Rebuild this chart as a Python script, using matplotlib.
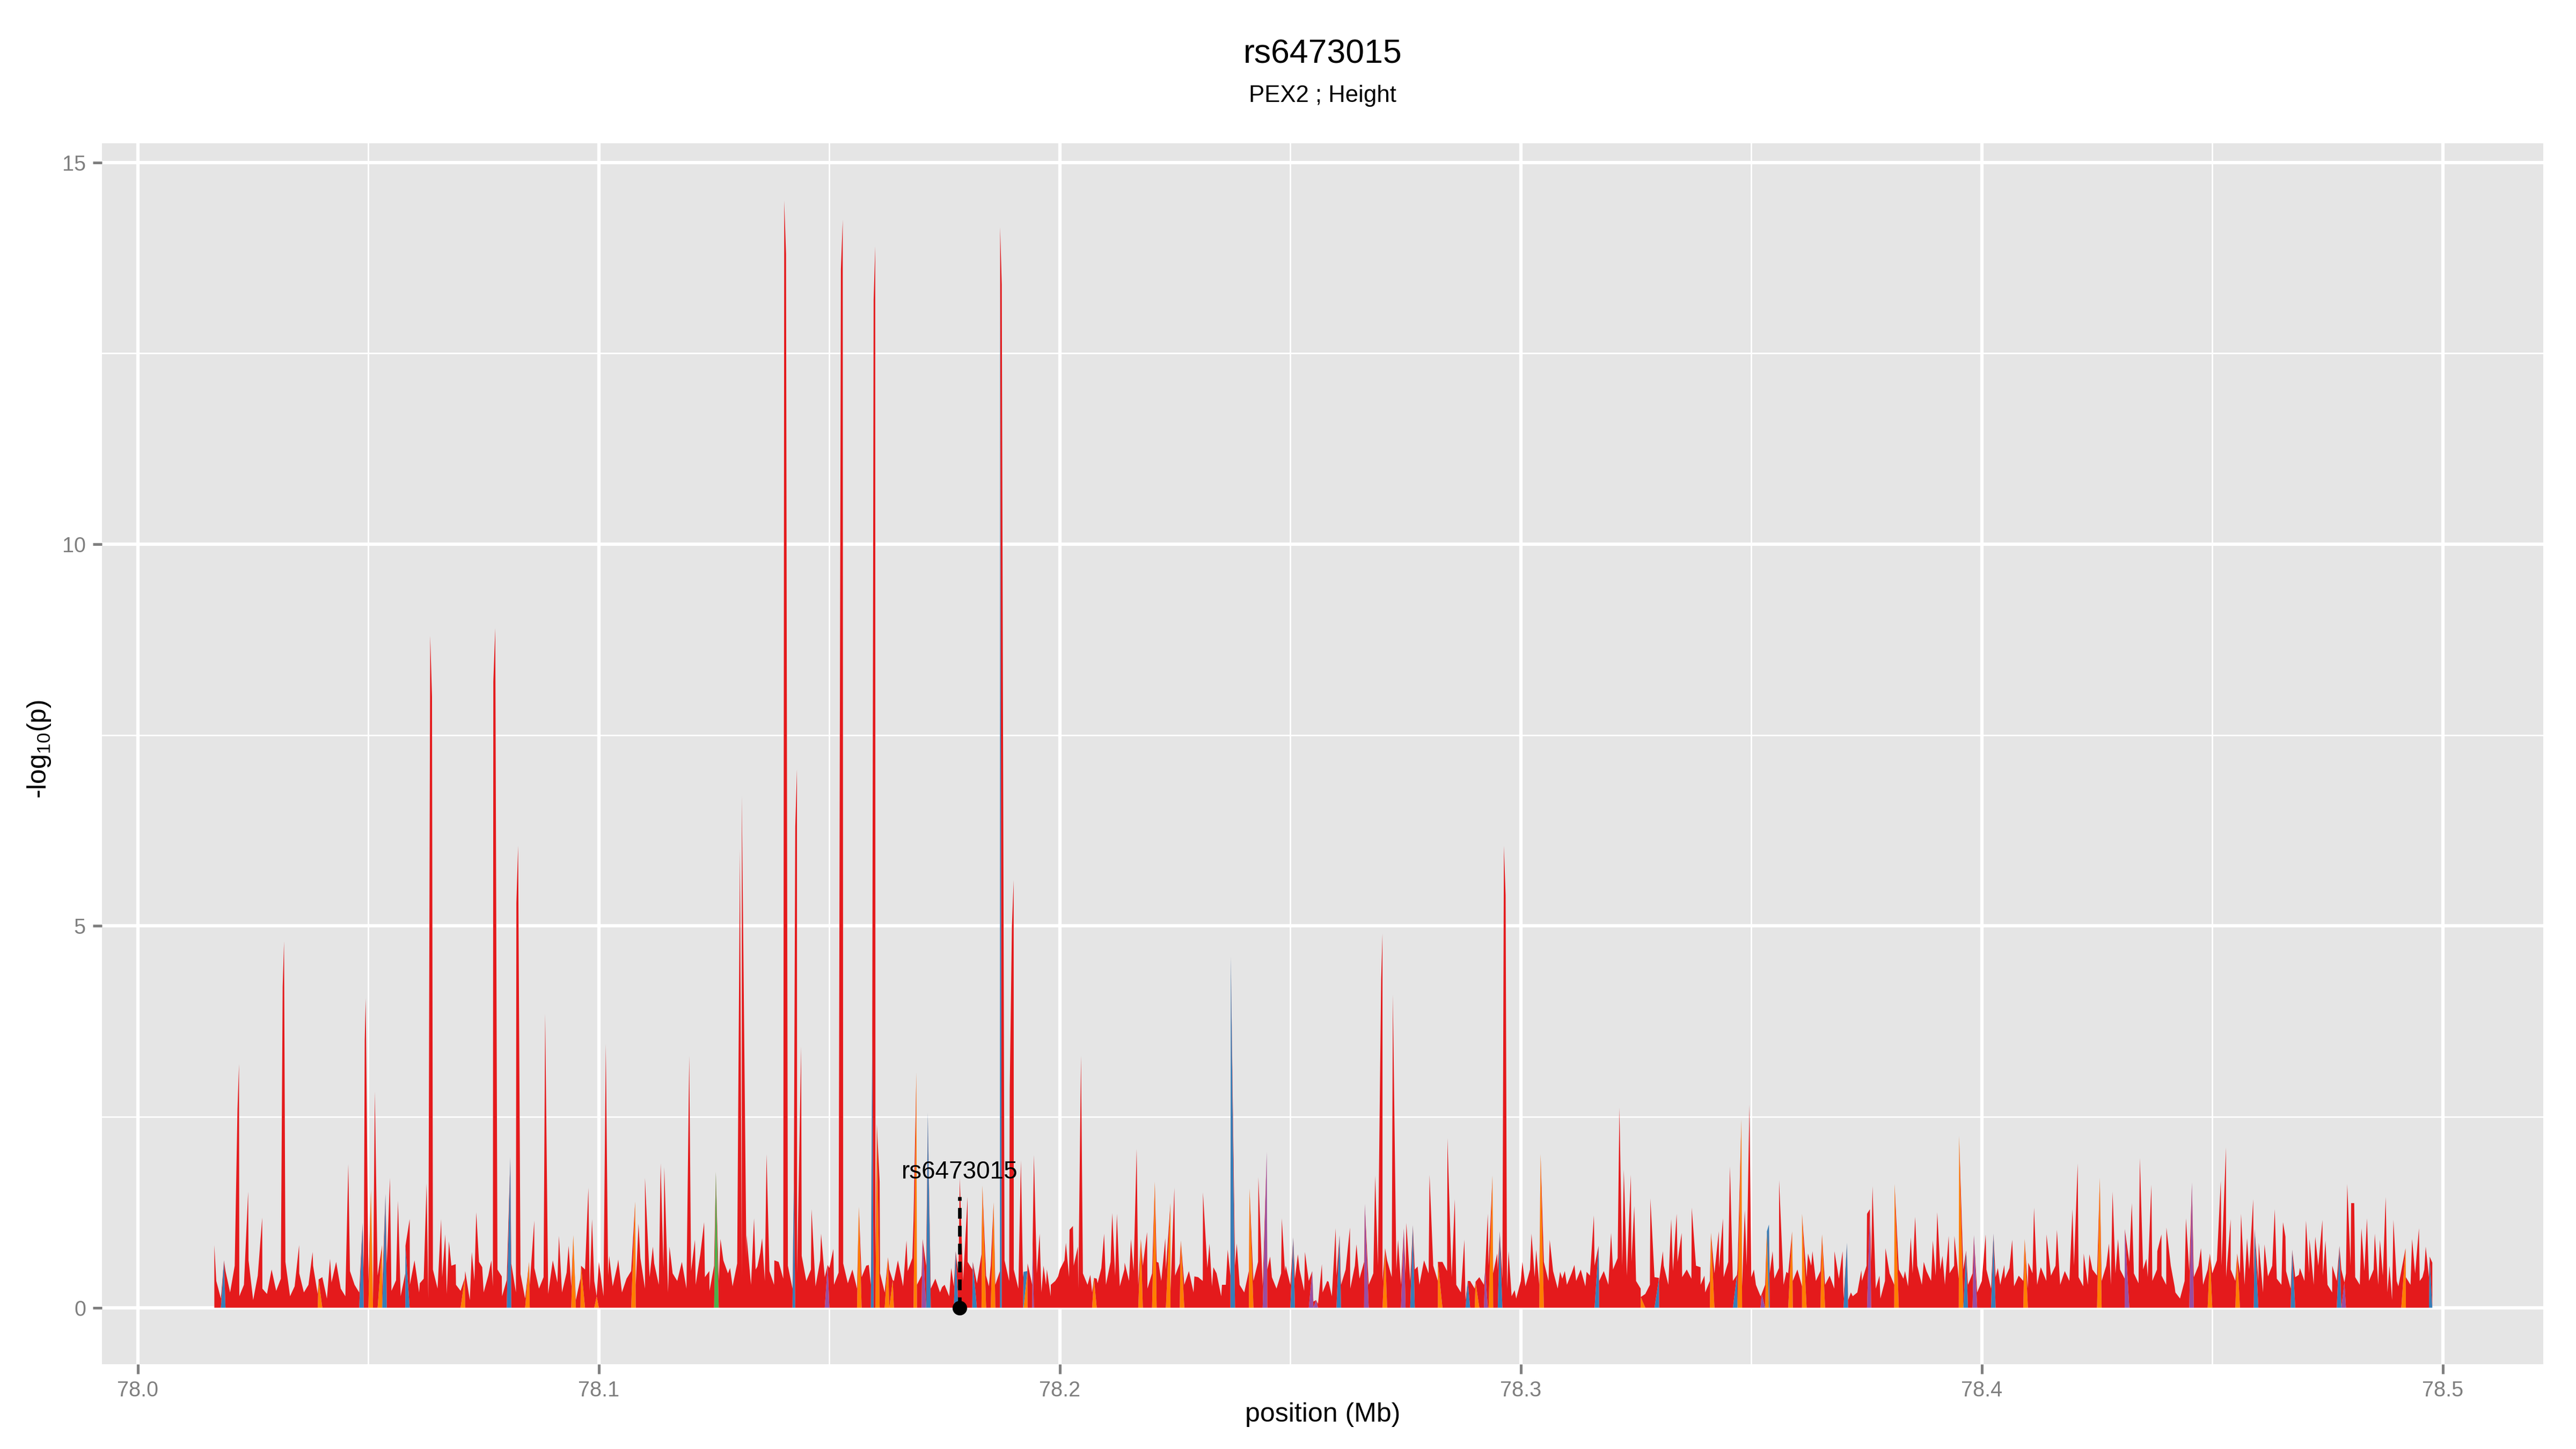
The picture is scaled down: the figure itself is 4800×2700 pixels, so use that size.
import numpy as np
import matplotlib
matplotlib.use("Agg")
import matplotlib.pyplot as plt
from matplotlib.ticker import FixedLocator

plt.rcParams['font.family'] = ['Liberation Sans', 'DejaVu Sans']
plt.rcParams['mathtext.fontset'] = 'custom'
plt.rcParams['mathtext.rm'] = 'Liberation Sans'
plt.rcParams['mathtext.it'] = 'Liberation Sans:italic'

# ---------------- data ----------------
title = "rs6473015"
subtitle = "PEX2 ; Height"
lead_snp = "rs6473015"
lead_pos = 78.1783
lead_line_top = 1.45
lead_label_y = 1.69

# background (low-signal) SNPs, every 1 kb starting at 78.017 Mb
bg_start = 78.017
bg_step = 0.001
bg_logp = [
    0.35, 0.12, 0.48, 0.2, 0.55, 0.15, 0.3, 0.62, 0.1, 0.42, 0.25, 0.18, 0.5, 0.22, 0.38, 0.6, 0.15, 0.28, 0.45, 0.2,
    0.3, 0.55, 0.18, 0.4, 0.12, 0.33, 0.6, 0.25, 0.15, 0.48, 0.3, 0.2, 0.52, 0.35, 0.1, 0.42, 0.28, 0.58, 0.22, 0.36,
    0.15, 0.45, 0.3, 0.62, 0.2, 0.38, 0.12, 0.5, 0.25, 0.4, 0.18, 0.55, 0.3, 0.22, 0.48, 0.1, 0.35, 0.6, 0.2, 0.42,
    0.28, 0.5, 0.15, 0.36, 0.58, 0.2, 0.44, 0.12, 0.3, 0.52, 0.25, 0.4, 0.18, 0.62, 0.33, 0.2, 0.46, 0.28, 0.1, 0.38,
    0.5, 0.22, 0.35, 0.6, 0.15, 0.42, 0.28, 0.55, 0.2, 0.38, 0.48, 0.3, 0.65, 0.25, 0.4, 0.58, 0.3, 0.52, 0.2, 0.45,
    0.35, 0.6, 0.25, 0.48, 0.3, 0.7, 0.4, 0.22, 0.55, 0.35, 0.62, 0.45, 0.28, 0.58, 0.4, 0.66, 0.3, 0.5, 0.72, 0.35,
    0.48, 0.3, 0.6, 0.38, 0.55, 0.25, 0.45, 0.68, 0.35, 0.5, 0.28, 0.62, 0.4, 0.52, 0.3, 0.46, 0.58, 0.32, 0.5, 0.25,
    0.4, 0.55, 0.3, 0.62, 0.45, 0.2, 0.5, 0.35, 0.58, 0.28, 0.48, 0.65, 0.3, 0.42, 0.55, 0.25, 0.38, 0.2, 0.3, 0.15,
    0.28, 0.45, 0.35, 0.6, 0.5, 0.32, 0.7, 0.42, 0.55, 0.3, 0.48, 0.62, 0.35, 0.5, 0.25, 0.4, 0.58, 0.3, 0.45, 0.2,
    0.3, 0.15, 0.35, 0.5, 0.62, 0.4, 0.55, 0.25, 0.45, 0.3, 0.2, 0.38, 0.52, 0.3, 0.6, 0.42, 0.28, 0.5, 0.35, 0.48,
    0.3, 0.55, 0.25, 0.45, 0.6, 0.35, 0.5, 0.22, 0.42, 0.58, 0.3, 0.48, 0.2, 0.4, 0.35, 0.52, 0.28, 0.45, 0.15, 0.3,
    0.42, 0.55, 0.3, 0.2, 0.48, 0.35, 0.6, 0.28, 0.5, 0.4, 0.25, 0.45, 0.55, 0.3, 0.38, 0.5, 0.22, 0.35, 0.08, 0.05,
    0.2, 0.35, 0.15, 0.42, 0.3, 0.5, 0.25, 0.55, 0.38, 0.6, 0.3, 0.45, 0.55, 0.35, 0.62, 0.4, 0.5, 0.3, 0.45, 0.35,
    0.5, 0.3, 0.62, 0.45, 0.55, 0.35, 0.6, 0.48, 0.4, 0.3, 0.2, 0.1, 0.35, 0.25, 0.4, 0.3, 0.55, 0.45, 0.5, 0.38,
    0.25, 0.15, 0.12, 0.35, 0.28, 0.5, 0.4, 0.3, 0.6, 0.35, 0.48, 0.25, 0.38, 0.3, 0.45, 0.35, 0.5, 0.28, 0.42, 0.55,
    0.35, 0.48, 0.3, 0.5, 0.65, 0.55, 0.42, 0.6, 0.35, 0.25, 0.18, 0.3, 0.4, 0.35, 0.55, 0.3, 0.48, 0.6, 0.4, 0.5,
    0.38, 0.55, 0.3, 0.2, 0.35, 0.45, 0.52, 0.4, 0.6, 0.35, 0.5, 0.28, 0.55, 0.4, 0.3, 0.15, 0.3, 0.45, 0.38, 0.52,
    0.3, 0.45, 0.35, 0.5, 0.28, 0.4, 0.55, 0.35, 0.48, 0.3, 0.42, 0.25, 0.38, 0.12, 0.1, 0.15, 0.2, 0.35, 0.55, 0.6,
    0.25, 0.12, 0.35, 0.45, 0.3, 0.5, 0.38, 0.28, 0.45, 0.55, 0.3, 0.48, 0.35, 0.42, 0.5, 0.3, 0.45, 0.55, 0.38, 0.5,
    0.3, 0.45, 0.2, 0.35, 0.5, 0.25, 0.4, 0.3, 0.38, 0.52, 0.28, 0.42, 0.35, 0.25, 0.45, 0.3, 0.5, 0.35, 0.42, 0.55,
    0.3, 0.48, 0.35, 0.55, 0.4, 0.28, 0.3, 0.5, 0.42, 0.35, 0.55, 0.3, 0.45, 0.5, 0.38, 0.6, 0.45, 0.32, 0.5, 0.4,
    0.35, 0.5, 0.42, 0.3, 0.55, 0.2, 0.12, 0.35, 0.48, 0.4, 0.55, 0.3, 0.5, 0.45, 0.62, 0.55, 0.4, 0.5, 0.35, 0.45,
    0.3, 0.5, 0.42, 0.35, 0.2, 0.45, 0.55, 0.38, 0.3, 0.48, 0.25, 0.4, 0.52, 0.35, 0.45, 0.3, 0.55, 0.42, 0.3, 0.2,
    0.35, 0.5, 0.45, 0.55, 0.4, 0.3, 0.48, 0.35, 0.5, 0.3, 0.42, 0.2, 0.1, 0.35, 0.48, 0.4, 0.3, 0.45, 0.35, 0.5,
    0.4,
]

# strong red peaks (position Mb, -log10 p)
major_pos = [78.02193, 78.03170, 78.04942, 78.05139, 78.06341, 78.07752, 78.08248, 78.08835,
             78.10150, 78.11960, 78.13101, 78.13637, 78.14021, 78.14297, 78.14388, 78.15290,
             78.15995, 78.18913, 78.18998, 78.19437, 78.20459, 78.21666, 78.26999, 78.27224,
             78.28408, 78.29633, 78.32139, 78.34959, 78.45297]
major_logp = [3.19, 4.8, 4.05, 2.83, 8.8, 8.9, 6.05, 3.85,
              3.45, 3.30, 6.7, 2.01, 14.5, 7.05, 3.42, 14.25,
              13.9, 2.88, 5.6, 2.0, 3.3, 2.08, 4.9, 4.1,
              2.22, 6.05, 2.62, 2.66, 2.1]

# SNPs in tight LD right beside the strong peaks (give the peaks their body)
shoulder_pos = [78.0216, 78.0314, 78.0492, 78.0638, 78.0771, 78.0821, 78.1306, 78.1406,
                78.1426, 78.1525, 78.1596, 78.1874, 78.1896, 78.2697, 78.2967]
shoulder_logp = [2.6, 4.2, 3.5, 8.0, 8.2, 5.3, 6.0, 13.8,
                 6.3, 13.6, 13.2, 13.4, 5.0, 4.3, 5.4]

# weaker red SNPs
minor_pos = [
    78.01658, 78.02391, 78.02696, 78.03497, 78.03790, 78.04168, 78.04564, 78.05467, 78.05642, 78.05895,
    78.06115, 78.06262, 78.06578, 78.06668, 78.06747, 78.06894, 78.07243, 78.07340, 78.07469, 78.07667,
    78.07893, 78.08598, 78.09134, 78.09343, 78.09772, 78.09851, 78.10224, 78.10420, 78.10860, 78.11000,
    78.11171, 78.11340, 78.11419, 78.11532, 78.12085, 78.12283, 78.12396, 78.12638, 78.12847, 78.13203,
    78.13366, 78.13439, 78.13541, 78.13806, 78.14613, 78.14820, 78.15087, 78.15855, 78.16091, 78.16487,
    78.16673, 78.16825, 78.17446, 78.17643, 78.17829, 78.17999, 78.18461, 78.19155, 78.19561, 78.19646,
    78.19719, 78.19804, 78.19962, 78.20131, 78.20210, 78.20284, 78.20391, 78.20661, 78.20819, 78.20960,
    78.21136, 78.21237, 78.21406, 78.21542, 78.21892, 78.22140, 78.22287, 78.22484, 78.22918, 78.23105,
    78.23246, 78.23330, 78.23517, 78.23641, 78.23838, 78.24036, 78.24307, 78.24561, 78.24815, 78.24883,
    78.25164, 78.25317, 78.25684, 78.25830, 78.25983, 78.26293, 78.26434, 78.26840, 78.27337, 78.27517,
    78.27761, 78.28020, 78.28567, 78.28775, 78.29283, 78.29487, 78.29735, 78.29865, 78.30034, 78.30232,
    78.30333, 78.30627, 78.30852, 78.30954, 78.31163, 78.31427, 78.31585, 78.31958, 78.32234, 78.32387,
    78.32460, 78.32811, 78.33081, 78.33262, 78.33380, 78.33488, 78.33708, 78.33899, 78.33984, 78.34294,
    78.34384, 78.34537, 78.34858, 78.35056, 78.35462, 78.35603, 78.35761, 78.36229, 78.36326, 78.36804,
    78.36980, 78.37161, 78.37387, 78.37510, 78.37629, 78.37781, 78.37911, 78.38334, 78.38459, 78.38554,
    78.38741, 78.38938, 78.39034, 78.39147, 78.39282, 78.39406, 78.40084, 78.40348, 78.40489, 78.40659,
    78.41009, 78.41133, 78.41279, 78.41404, 78.41630, 78.41967, 78.42080, 78.42211, 78.42334, 78.42758,
    78.42837, 78.42956, 78.43254, 78.43429, 78.43570, 78.43678, 78.43807, 78.43897, 78.44005, 78.44185,
    78.44429, 78.44755, 78.45184, 78.45398, 78.45624, 78.45754, 78.45887, 78.46008, 78.46133, 78.46208,
    78.46355, 78.46533, 78.46587, 78.46877, 78.47033, 78.47109, 78.47233, 78.47389, 78.47455, 78.47603,
    78.47928, 78.48013, 78.48079, 78.48235, 78.48356, 78.48525, 78.48637, 78.48762, 78.48845, 78.48930,
    78.49037, 78.49335, 78.49483, 78.49559, 78.49630, 78.49773,
]
minor_logp = [
    0.82, 1.52, 1.18, 0.82, 0.73, 0.64, 1.88, 1.70, 1.40, 1.16,
    0.32, 1.63, 1.16, 0.96, 0.87, 0.57, 0.73, 1.25, 0.53, 0.62,
    0.41, 1.14, 0.94, 0.81, 1.57, 1.16, 0.68, 0.63, 1.10, 1.70,
    0.80, 1.89, 1.84, 0.80, 0.89, 1.12, 0.48, 0.90, 0.52, 0.95,
    1.17, 0.54, 0.91, 0.62, 1.29, 0.97, 0.77, 0.56, 1.65, 0.62,
    0.88, 1.14, 0.27, 0.52, 1.70, 1.45, 0.28, 1.93, 0.97, 0.55,
    0.50, 0.30, 0.41, 0.85, 1.02, 1.07, 0.80, 0.43, 0.32, 0.97,
    1.24, 1.23, 0.59, 0.90, 0.99, 0.59, 0.91, 1.57, 0.41, 1.51,
    0.84, 0.53, 0.30, 0.76, 0.84, 0.30, 1.71, 0.67, 1.17, 0.48,
    0.70, 0.73, 0.57, 0.34, 1.04, 1.05, 0.83, 1.73, 0.89, 1.11,
    0.54, 1.74, 1.42, 0.89, 1.23, 0.71, 0.74, 0.23, 0.60, 0.97,
    0.76, 0.89, 0.47, 0.48, 0.56, 0.47, 1.21, 0.98, 1.81, 1.74,
    1.33, 1.43, 0.74, 1.16, 1.23, 0.98, 1.31, 0.53, 0.42, 1.00,
    1.17, 1.85, 1.28, 0.50, 0.74, 1.67, 0.47, 0.71, 0.74, 0.74,
    0.74, 0.20, 0.49, 1.23, 1.59, 0.42, 0.78, 0.48, 0.92, 1.19,
    0.60, 0.88, 1.25, 0.68, 0.94, 0.94, 0.96, 0.52, 0.56, 0.89,
    0.59, 1.31, 0.53, 0.96, 1.02, 1.29, 1.89, 0.71, 0.70, 0.84,
    1.52, 0.90, 1.37, 1.96, 0.64, 1.61, 0.74, 0.96, 1.05, 0.27,
    1.17, 0.78, 1.66, 1.16, 1.23, 0.91, 1.42, 0.85, 0.83, 0.41,
    1.29, 1.12, 0.93, 0.43, 1.14, 0.90, 0.93, 1.15, 0.88, 0.55,
    1.62, 1.37, 1.37, 1.04, 1.17, 0.97, 0.89, 1.45, 0.55, 1.15,
    0.28, 0.90, 1.04, 0.40, 0.80, 0.59,
]

blue_pos = [78.01866, 78.04874, 78.05370, 78.05804, 78.08079, 78.14230, 78.15930, 78.17135, 78.17739,
            78.18111, 78.18704, 78.19212, 78.23709, 78.25063, 78.26068, 78.27658, 78.28849,
            78.29543, 78.31687, 78.32997, 78.34689, 78.35383, 78.37076, 78.39660, 78.40253,
            78.45918, 78.46734, 78.47759, 78.49715]
blue_logp = [0.62, 1.11, 1.49, 0.81, 1.97, 1.7, 3.6, 2.55, 0.74,
             0.6, 14.15, 0.47, 4.6, 0.92, 0.95, 1.08, 0.35,
             1.0, 0.81, 0.39, 0.43, 1.09, 0.85, 0.75, 0.97,
             1.03, 0.76, 0.81, 0.67]

orange_pos = [78.03920, 78.05055, 78.05297, 78.07092, 78.08485, 78.09445, 78.09613, 78.09952,
              78.10787, 78.15640, 78.16030, 78.16271, 78.16374, 78.16887, 78.18320, 78.18563, 78.19296,
              78.20740, 78.21757, 78.22060, 78.22399, 78.22625, 78.24115, 78.27055, 78.28200,
              78.29018, 78.29385, 78.30429, 78.32602, 78.34125, 78.34785, 78.35338, 78.35885,
              78.36100, 78.36534, 78.38108, 78.39508, 78.40930, 78.42560, 78.44948, 78.45540,
              78.49193]
orange_logp = [0.37, 1.55, 0.82, 0.39, 0.6, 0.95, 0.55, 0.15,
               1.39, 1.32, 2.4, 0.66, 0.36, 3.08, 1.60, 1.38, 0.48,
               0.39, 0.9, 1.65, 1.37, 0.88, 1.56, 0.78, 0.6,
               0.34, 1.73, 2.01, 0.14, 0.98, 2.47, 1.0, 1.0,
               1.23, 0.96, 1.62, 2.25, 0.9, 1.70, 0.71, 0.71,
               0.78]

purple_pos = [78.14963, 78.17022, 78.19409, 78.24488, 78.25475, 78.25560, 78.26615, 78.27461,
              78.29227, 78.35225, 78.37573, 78.39829, 78.43102, 78.44558, 78.47866]
purple_logp = [0.56, 0.9, 0.83, 2.04, 0.48, 0.1, 1.36, 1.04,
               0.5, 0.18, 1.29, 0.95, 1.03, 1.64, 0.33]

green_pos = [78.12537]
green_logp = [1.78]

ld_colors = {"green": "#4DAF4A", "purple": "#984EA3", "orange": "#FF7F00",
             "blue": "#377EB8", "red": "#E41A1C"}

# ---------------- assemble ----------------
bg_pos = bg_start + bg_step * np.arange(len(bg_logp))
groups = [
    ("red", bg_pos, bg_logp),
    ("red", major_pos, major_logp),
    ("red", shoulder_pos, shoulder_logp),
    ("red", minor_pos, minor_logp),
    ("blue", blue_pos, blue_logp),
    ("orange", orange_pos, orange_logp),
    ("purple", purple_pos, purple_logp),
    ("green", green_pos, green_logp),
]
pos = np.concatenate([np.asarray(p, float) for _, p, _ in groups])
val = np.concatenate([np.asarray(v, float) for _, _, v in groups])
cat = np.concatenate([[c] * len(p) for c, p, _ in groups])
order = np.argsort(pos, kind="stable")
pos, val, cat = pos[order], val[order], cat[order]

stack_order = ["green", "purple", "orange", "blue", "red"]
layers = [np.where(cat == c, val, 0.0) for c in stack_order]

# ---------------- plot ----------------
fig = plt.figure(figsize=(16, 9), dpi=300)
ax = fig.add_axes([0.03958, 0.05852, 0.94771, 0.84259])
ax.set_facecolor("#E5E5E5")
for s in ax.spines.values():
    s.set_visible(False)

ax.stackplot(pos, *layers, colors=[ld_colors[c] for c in stack_order],
             linewidth=0, zorder=3)

ax.set_xlim(77.9922, 78.5218)
ax.set_ylim(-0.74, 15.25)
ax.xaxis.set_major_locator(FixedLocator([78.0, 78.1, 78.2, 78.3, 78.4, 78.5]))
ax.xaxis.set_minor_locator(FixedLocator([78.05, 78.15, 78.25, 78.35, 78.45]))
ax.yaxis.set_major_locator(FixedLocator([0, 5, 10, 15]))
ax.yaxis.set_minor_locator(FixedLocator([2.5, 7.5, 12.5]))
ax.set_xticklabels(["78.0", "78.1", "78.2", "78.3", "78.4", "78.5"])
ax.set_yticklabels(["0", "5", "10", "15"])

ax.set_axisbelow(True)
ax.grid(which="major", color="white", linewidth=1.5, zorder=0)
ax.grid(which="minor", color="white", linewidth=0.65, zorder=0)
ax.tick_params(which="major", length=4.2, width=1.2, color="#7F7F7F",
               labelcolor="#7F7F7F", labelsize=9.5, pad=3)
ax.tick_params(which="minor", length=0)

# lead SNP annotation
ax.plot([lead_pos, lead_pos], [0, lead_line_top], color="black", linewidth=1.6,
        linestyle=(0, (3, 2)), zorder=5)
ax.plot([lead_pos], [0], marker="o", markersize=5.5, color="black", zorder=6)
ax.text(lead_pos, lead_label_y, lead_snp, ha="center", va="baseline",
        fontsize=11, color="black", zorder=7)

cx = 0.03958 + 0.94771 / 2
fig.text(cx, 0.9626, title, ha="center", va="center", fontsize=15)
fig.text(cx, 0.934, subtitle, ha="center", va="center", fontsize=10.5)
fig.text(cx, 0.0237, "position (Mb)", ha="center", va="center", fontsize=12)
fig.text(0.0153, 0.483, r"-log$_{10}$(p)", ha="center", va="center",
         rotation=90, fontsize=12)

fig.savefig("out.png", dpi=300, facecolor="white")
